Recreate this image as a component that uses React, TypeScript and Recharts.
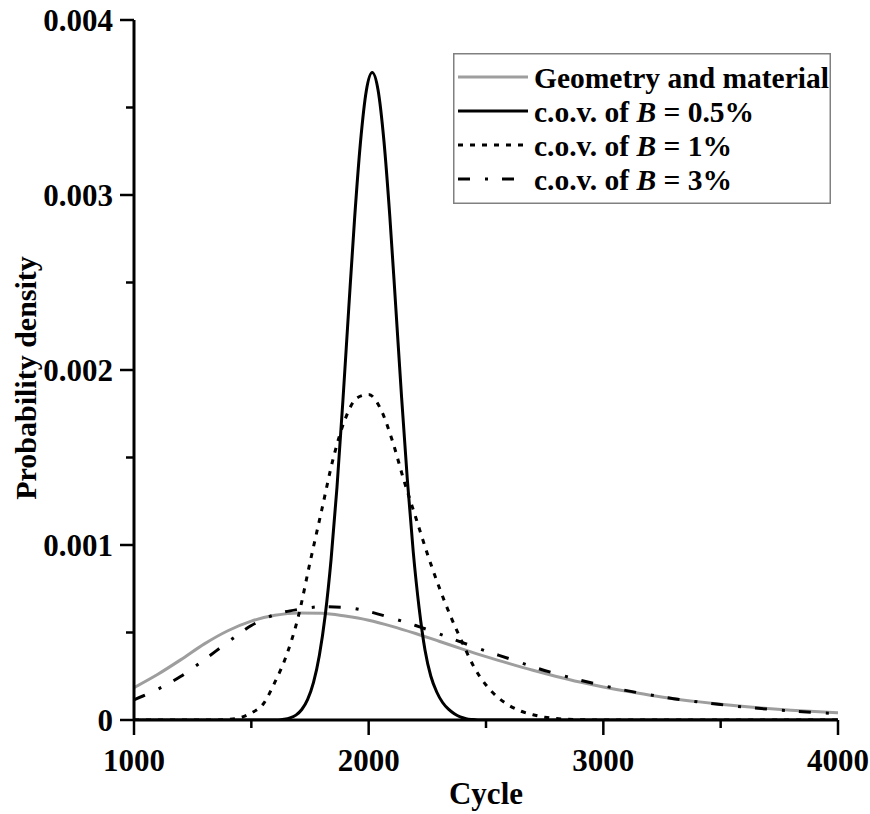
import React from 'react';
import { LineChart, Line, XAxis, YAxis, Legend } from 'recharts';

// Geometry and material scatter (lognormal-like density)
const geomCycles = [
  1000, 1100, 1200, 1300, 1400, 1500, 1600, 1700, 1800, 1900, 2000,
  2100, 2200, 2300, 2400, 2500, 2600, 2700, 2800, 2900, 3000,
  3100, 3200, 3300, 3400, 3500, 3600, 3700, 3800, 3900, 4000,
];
const geomDensity = [
  0.000185, 0.00026, 0.000345, 0.000435, 0.00051, 0.000565, 0.000598, 0.000612, 0.00061, 0.000594, 0.00057,
  0.000535, 0.000494, 0.00045, 0.000405, 0.000362, 0.000322, 0.000284, 0.000249, 0.000217, 0.000189,
  0.000164, 0.000142, 0.000122, 0.000105, 0.00009, 0.000077, 0.000066, 0.000056, 0.000048, 0.000041,
];

// c.o.v. of B = 3%
const cov3Cycles = geomCycles;
const cov3Density = [
  0.000115, 0.000175, 0.00025, 0.000345, 0.000445, 0.00054, 0.000602, 0.000632, 0.000647, 0.000643, 0.00062,
  0.000582, 0.00054, 0.000492, 0.000442, 0.000394, 0.00035, 0.000304, 0.000264, 0.000228, 0.000196,
  0.000168, 0.000143, 0.000122, 0.000104, 0.000088, 0.000074, 0.000062, 0.000052, 0.000043, 0.000036,
];

// c.o.v. of B = 1%
const cov1Cycles = [
  1000, 1350, 1400, 1450, 1500, 1550, 1600, 1650, 1700, 1750, 1800, 1850, 1900, 1950, 2000,
  2050, 2100, 2150, 2200, 2250, 2300, 2350, 2400, 2450, 2500, 2550, 2600, 2650, 2700,
  2750, 2800, 2850, 2900, 2950, 4000,
];
const cov1Density = [
  0, 0, 0.000003, 0.000012, 0.00004, 0.00009, 0.000215, 0.00037, 0.00059, 0.0009, 0.0012, 0.0015, 0.00172, 0.00184, 0.00186,
  0.00178, 0.0016, 0.00137, 0.00116, 0.00095, 0.00076, 0.00059, 0.00044, 0.0003, 0.0002, 0.00013, 0.000082, 0.00005, 0.00003,
  0.000016, 0.000008, 0.000004, 0.000002, 0, 0,
];

// c.o.v. of B = 0.5%
const cov05Cycles = [
  1000, 1615, 1640, 1665, 1690, 1715, 1740, 1765, 1790, 1815, 1840, 1865, 1890, 1915, 1940, 1965, 1990,
  2015, 2040, 2065, 2090, 2115, 2140, 2165, 2190, 2215, 2240, 2265, 2290, 2315, 2340, 2365, 2390,
  2415, 2440, 2465, 4000,
];
const cov05Density = [
  0, 0, 0.000004, 0.000012, 0.000028, 0.00006, 0.000118, 0.000215, 0.00037, 0.0006, 0.00092, 0.00133, 0.00182, 0.00235, 0.002865, 0.0033, 0.003596,
  0.0037, 0.0036, 0.00331, 0.00288, 0.00237, 0.00185, 0.00137, 0.00096, 0.00064, 0.0004, 0.00025, 0.00016, 0.0001, 0.000062, 0.000036, 0.000018,
  0.000008, 0.000003, 0, 0,
];

const xTicks = [1000, 1500, 2000, 2500, 3000, 3500, 4000];
const yTicks = [0, 0.0005, 0.001, 0.0015, 0.002, 0.0025, 0.003, 0.0035, 0.004];
const yMajorTicks = [0, 0.001, 0.002, 0.003, 0.004];
const yTickLabels = ['0', '0.001', '0.002', '0.003', '0.004'];

const FONT = '"Liberation Serif", "Times New Roman", serif';

const toPoints = (xs: number[], ys: number[]) => xs.map((x, i) => ({ cycle: x, density: ys[i] }));

type Series = {
  key: string;
  label: [string, string, string];
  stroke: string;
  dash?: string;
  points: { cycle: number; density: number }[];
};

const geomSeries: Series = {
  key: 'geom', label: ['Geometry and material', '', ''], stroke: '#9e9e9e',
  points: toPoints(geomCycles, geomDensity),
};
const cov05Series: Series = {
  key: 'cov05', label: ['c.o.v. of ', 'B', ' = 0.5%'], stroke: '#000',
  points: toPoints(cov05Cycles, cov05Density),
};
const cov1Series: Series = {
  key: 'cov1', label: ['c.o.v. of ', 'B', ' = 1%'], stroke: '#000', dash: '5 7',
  points: toPoints(cov1Cycles, cov1Density),
};
const cov3Series: Series = {
  key: 'cov3', label: ['c.o.v. of ', 'B', ' = 3%'], stroke: '#000', dash: '12 15 3 14',
  points: toPoints(cov3Cycles, cov3Density),
};

const legendOrder = [geomSeries, cov05Series, cov1Series, cov3Series];
const drawOrder = [geomSeries, cov3Series, cov1Series, cov05Series];

const XTick = (props: any) => {
  const { x, y, payload } = props;
  const major = payload.value % 1000 === 0;
  return (
    <g>
      <line x1={x} y1={y} x2={x} y2={y + (major ? 15 : 8)} stroke="#000" strokeWidth={2.5} />
      {major && (
        <text x={x} y={y + 51} textAnchor="middle" fontFamily={FONT} fontWeight="bold" fontSize={31} fill="#000">
          {payload.value}
        </text>
      )}
    </g>
  );
};

const YTick = (props: any) => {
  const { x, y, payload } = props;
  const idx = yMajorTicks.findIndex((t) => Math.abs(t - payload.value) < 1e-9);
  const major = idx >= 0;
  return (
    <g>
      <line x1={x - (major ? 14 : 8)} y1={y} x2={x} y2={y} stroke="#000" strokeWidth={2.5} />
      {major && (
        <text x={x - 21} y={y + 11} textAnchor="end" fontFamily={FONT} fontWeight="bold" fontSize={31} fill="#000">
          {yTickLabels[idx]}
        </text>
      )}
    </g>
  );
};

const renderYLabel = (p: any) => {
  const vb = p.viewBox;
  const cx = vb.x + 25;
  const cy = vb.y + vb.height / 2 + 8;
  return (
    <text x={cx} y={cy} transform={`rotate(-90 ${cx} ${cy})`} textAnchor="middle" dominantBaseline="central"
      fontFamily={FONT} fontWeight="bold" fontSize={30} fill="#000">
      Probability density
    </text>
  );
};

const renderXLabel = (p: any) => {
  const vb = p.viewBox;
  return (
    <text x={vb.x + vb.width / 2} y={vb.y + 84} textAnchor="middle"
      fontFamily={FONT} fontWeight="bold" fontSize={31} fill="#000">
      Cycle
    </text>
  );
};

const LegendBox = () => (
  <svg width={378} height={151} style={{ display: 'block' }}>
    <rect x={0.75} y={0.75} width={376.5} height={149.5} fill="#fff" stroke="#808080" strokeWidth={1.5} />
    {legendOrder.map((s, i) => {
      const cy = 24 + i * 34;
      return (
        <g key={s.key}>
          <line x1={5} x2={75} y1={cy} y2={cy} stroke={s.stroke} strokeWidth={3} strokeDasharray={s.dash} />
          <text x={81} y={cy + 11} fontFamily={FONT} fontWeight="bold" fontSize={29.5} fill="#000" style={{ whiteSpace: 'pre' }}>
            <tspan>{s.label[0]}</tspan>
            {s.label[1] && <tspan fontStyle="italic">{s.label[1]}</tspan>}
            {s.label[2] && <tspan>{s.label[2]}</tspan>}
          </text>
        </g>
      );
    })}
  </svg>
);

export default function App() {
  return (
    <div style={{ width: 870, height: 814, background: '#fff' }}>
      <style>{'body{margin:0}'}</style>
      <LineChart width={870} height={814} margin={{ top: 20, right: 32, bottom: 0, left: 0 }}>
        <XAxis
          dataKey="cycle"
          type="number"
          domain={[1000, 4000]}
          ticks={xTicks}
          interval={0}
          allowDataOverflow
          height={94}
          tickSize={0}
          tickMargin={0}
          tickLine={false}
          tick={<XTick />}
          axisLine={{ stroke: '#000', strokeWidth: 3 }}
          label={renderXLabel}
        />
        <YAxis
          type="number"
          domain={[0, 0.004]}
          ticks={yTicks}
          interval={0}
          allowDataOverflow
          width={134}
          tickSize={0}
          tickMargin={0}
          tickLine={false}
          tick={<YTick />}
          axisLine={{ stroke: '#000', strokeWidth: 3 }}
          label={renderYLabel}
        />
        <Legend
          layout="horizontal"
          verticalAlign="middle"
          align="center"
          wrapperStyle={{ left: 453, top: 53, width: 378, height: 151 }}
          content={() => <LegendBox />}
        />
        {drawOrder.map((s) => (
          <Line
            key={s.key}
            data={s.points}
            dataKey="density"
            name={s.key}
            type="monotone"
            stroke={s.stroke}
            strokeWidth={3}
            strokeDasharray={s.dash}
            dot={false}
            activeDot={false}
            isAnimationActive={false}
          />
        ))}
      </LineChart>
    </div>
  );
}
